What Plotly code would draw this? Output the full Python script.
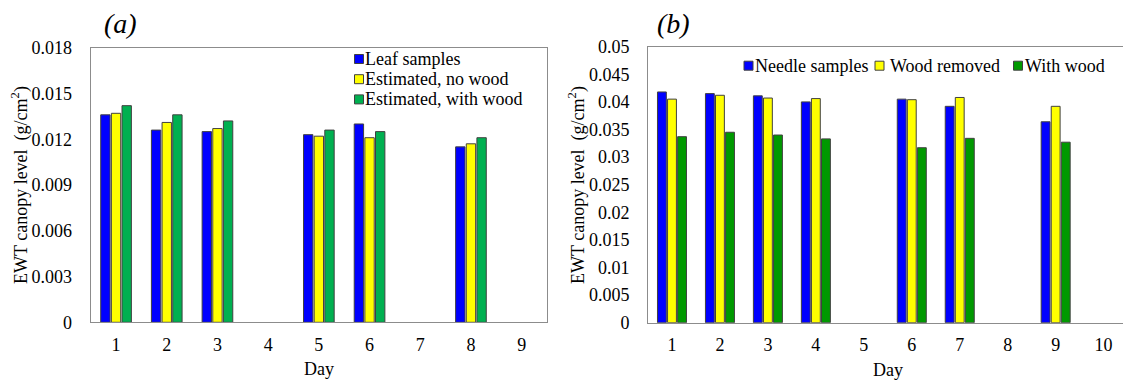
import plotly.graph_objects as go

# ---- data ----
days_a = [1, 2, 3, 4, 5, 6, 7, 8, 9]
leaf_samples = [0.0136, 0.0126, 0.0125, None, 0.0123, 0.0130, None, 0.0115, None]
est_no_wood = [0.0137, 0.0131, 0.0127, None, 0.0122, 0.0121, None, 0.0117, None]
est_with_wood = [0.0142, 0.0136, 0.0132, None, 0.0126, 0.0125, None, 0.0121, None]

days_b = [1, 2, 3, 4, 5, 6, 7, 8, 9, 10]
needle_samples = [0.0418, 0.0415, 0.0411, 0.0400, None, 0.0405, 0.0392, None, 0.0364, None]
wood_removed = [0.0405, 0.0412, 0.0407, 0.0406, None, 0.0404, 0.0408, None, 0.0392, None]
with_wood = [0.0337, 0.0345, 0.0340, 0.0333, None, 0.0317, 0.0334, None, 0.0327, None]

names_a = ["Leaf samples", "Estimated, no wood", "Estimated, with wood"]
names_b = ["Needle samples", "Wood removed", "With wood"]
colors_a = ["#0000FF", "#FFFF00", "#00B050"]
colors_b = ["#0000FF", "#FFFF00", "#009900"]

W, H = 1123, 380
FONT = "Liberation Serif"
OUTLINE = "#404040"
AXIS = "#8c8c8c"


def px(x):
    return x / W


def py(y):
    return 1 - y / H


fig = go.Figure()

for vals, name, col in zip([leaf_samples, est_no_wood, est_with_wood], names_a, colors_a):
    fig.add_trace(go.Bar(x=days_a, y=vals, name=name, marker_color=col,
                         marker_line=dict(color=OUTLINE, width=1),
                         xaxis="x", yaxis="y", showlegend=False))
for vals, name, col in zip([needle_samples, wood_removed, with_wood], names_b, colors_b):
    fig.add_trace(go.Bar(x=days_b, y=vals, name=name, marker_color=col,
                         marker_line=dict(color=OUTLINE, width=1),
                         xaxis="x2", yaxis="y2", showlegend=False))

tickfont = dict(family=FONT, size=18, color="black")
common = dict(showgrid=False, zeroline=False, showline=True, linecolor=AXIS,
              linewidth=1, ticks="", tickfont=tickfont, automargin=False)

fig.update_layout(
    template="none",
    width=W, height=H,
    margin=dict(l=0, r=0, t=0, b=0, pad=0),
    font=dict(family=FONT, color="black"),
    paper_bgcolor="white", plot_bgcolor="white",
    showlegend=False,
    barmode="group", bargap=0.37, bargroupgap=0.12,
    xaxis=dict(domain=[px(90.7), px(547)], range=[0.5, 9.5], tickvals=days_a,
               mirror=True, ticklabelstandoff=6, anchor="y", **common),
    yaxis=dict(domain=[py(322.3), py(47.7)], range=[0, 0.018], dtick=0.003,
               mirror=True, ticklabelstandoff=14, anchor="x", **common),
    xaxis2=dict(domain=[px(648), 1.0], range=[0.5, 10.404], tickvals=days_b,
                mirror=True, ticklabelstandoff=6, anchor="y2", **common),
    yaxis2=dict(domain=[py(322.7), py(46.7)], range=[0, 0.05], dtick=0.005,
                mirror=False, ticklabelstandoff=14, anchor="x2", **common),
)

annotations = []
shapes = []


def text(x, y, s, size=18, anchor="left", angle=0, italic=False):
    annotations.append(dict(
        x=px(x), y=py(y), xref="paper", yref="paper", text=s, showarrow=False,
        xanchor=anchor, yanchor="middle", textangle=angle, borderpad=0,
        font=dict(family=FONT, size=size, color="black",
                  style="italic" if italic else "normal"),
    ))


def swatch(cx, cy, col, size=9):
    h = size / 2
    shapes.append(dict(type="rect", xref="paper", yref="paper",
                       x0=px(cx - h), x1=px(cx + h), y0=py(cy + h), y1=py(cy - h),
                       fillcolor=col, line=dict(color=OUTLINE, width=1)))


# panel labels
text(103, 24, "(a)", size=28, italic=True)
text(656, 24, "(b)", size=28, italic=True)

# axis titles
ytitle = "EWT canopy level  (g/cm<sup>2</sup>)"
text(20, 185, ytitle, size=18, anchor="center", angle=-90)
text(577, 185, ytitle, size=18, anchor="center", angle=-90)
text(319, 369, "Day", anchor="center")
text(887.5, 370, "Day", anchor="center")

# legend, panel (a): stacked
for i, (name, col) in enumerate(zip(names_a, colors_a)):
    y = 59 + 20.2 * i
    swatch(359, y, col)
    text(364, y, name)

# legend, panel (b): single row
for xs, xt, name, col in zip([748.5, 879.5, 1018], [754, 889, 1024], names_b, colors_b):
    swatch(xs, 65.7, col)
    text(xt, 65.7, name)

fig.update_layout(annotations=annotations, shapes=shapes)

fig.write_html("out.html")
